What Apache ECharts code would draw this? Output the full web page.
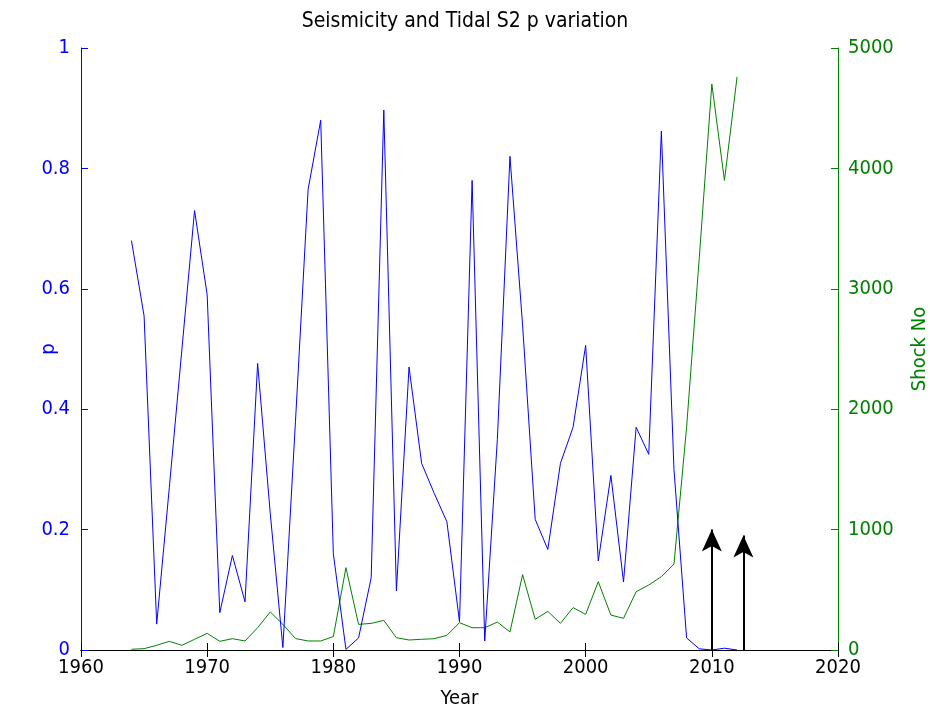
<!DOCTYPE html>
<html>
<head>
<meta charset="utf-8">
<script src="https://cdn.jsdelivr.net/npm/echarts@6/dist/echarts.min.js"></script>
<style>
html,body{margin:0;padding:0;background:#ffffff;}
#chart{width:930px;height:713px;}
</style>
</head>
<body>
<div id="chart"></div>
<script>
// ---- data ----
const years = [1964,1965,1966,1967,1968,1969,1970,1971,1972,1973,1974,1975,1976,1977,1978,1979,
  1980,1981,1982,1983,1984,1985,1986,1987,1988,1989,1990,1991,1992,1993,1994,1995,1996,1997,1998,1999,
  2000,2001,2002,2003,2004,2005,2006,2007,2008,2009,2010,2011,2012];
const pValues = [0.68,0.555,0.043,0.27,0.5,0.73,0.59,0.062,0.157,0.08,0.476,0.227,0.004,0.38,0.765,0.88,
  0.16,0.001,0.02,0.12,0.897,0.098,0.47,0.31,0.26,0.213,0.047,0.78,0.015,0.35,0.82,0.54,0.217,0.167,0.31,0.37,
  0.506,0.148,0.29,0.113,0.37,0.325,0.862,0.3,0.02,0.002,0,0.003,0];
const shockCounts = [6,11,39,72,39,89,138,72,94,75,185,316,213,95,75,75,
  111,684,213,221,246,102,83,89,94,122,227,185,185,232,150,626,255,321,221,352,
  296,567,290,263,484,540,609,713,1850,3250,4700,3900,4760];
const arrowYears = [2010, 2012.5];
const arrowTops = [0.2, 0.19];
const titleText = 'Seismicity and Tidal S2 p variation';
const xName = 'Year';
const leftName = 'p';
const rightName = 'Shock No';

const FONT = '"Liberation Sans Narrow","Arial Narrow","DejaVu Sans Condensed","Liberation Sans",sans-serif';
const BLUE = '#0000ff';
const GREEN = '#008000';

const pData = years.map((y, i) => [y, pValues[i]]);
const shockData = years.map((y, i) => [y, shockCounts[i]]);
const arrowLines = arrowYears.map((y, i) => [{coord: [y, 0]}, {coord: [y, arrowTops[i]]}]);

const chart = echarts.init(document.getElementById('chart'), null, {renderer: 'canvas'});
chart.setOption({
  backgroundColor: '#ffffff',
  animation: false,
  title: {
    text: titleText, left: 'center', top: 6,
    textStyle: {fontFamily: FONT, fontSize: 21, fontWeight: 'normal', color: '#000'}
  },
  grid: {left: 81, right: 92, top: 48, bottom: 63, containLabel: false, outerBoundsMode: 'none'},
  xAxis: [
    {
      type: 'value', min: 1960, max: 2020, interval: 10, position: 'bottom',
      name: xName, nameLocation: 'middle', nameGap: 39, nameMoveOverlap: false,
      nameTextStyle: {fontFamily: FONT, fontSize: 20, color: '#000'},
      axisLine: {show: true, lineStyle: {color: '#000', width: 1}},
      axisTick: {show: true, inside: true, length: 7, lineStyle: {color: '#000'}},
      axisLabel: {fontFamily: FONT, fontSize: 20, color: '#000', margin: 8, formatter: v => String(v)},
      splitLine: {show: false}
    },
    {
      type: 'value', min: 1960, max: 2020, interval: 10, position: 'top',
      axisLine: {show: true, lineStyle: {color: '#000', width: 1}},
      axisTick: {show: true, inside: true, length: 7, lineStyle: {color: '#000'}},
      axisLabel: {show: false},
      splitLine: {show: false}
    }
  ],
  yAxis: [
    {
      type: 'value', min: 0, max: 1, interval: 0.2, position: 'left',
      name: leftName, nameLocation: 'middle', nameGap: 22, nameRotate: 90, nameMoveOverlap: false,
      nameTextStyle: {fontFamily: FONT, fontSize: 20, color: BLUE},
      axisLine: {show: true, lineStyle: {color: BLUE, width: 1}},
      axisTick: {show: true, inside: true, length: 7, lineStyle: {color: BLUE}},
      axisLabel: {fontFamily: FONT, fontSize: 20, color: BLUE, margin: 11,
        formatter: v => String(Math.round(v * 10) / 10)},
      splitLine: {show: false}
    },
    {
      type: 'value', min: 0, max: 5000, interval: 1000, position: 'right',
      name: rightName, nameLocation: 'middle', nameGap: 72, nameRotate: 90, nameMoveOverlap: false,
      nameTextStyle: {fontFamily: FONT, fontSize: 20, color: GREEN},
      axisLine: {show: true, lineStyle: {color: GREEN, width: 1}},
      axisTick: {show: true, inside: true, length: 7, lineStyle: {color: GREEN}},
      axisLabel: {fontFamily: FONT, fontSize: 20, color: GREEN, margin: 10, formatter: v => String(v)},
      splitLine: {show: false}
    }
  ],
  series: [
    {
      name: 'Shock No', type: 'line', xAxisIndex: 0, yAxisIndex: 1,
      data: shockData, showSymbol: false, symbol: 'none',
      lineStyle: {color: GREEN, width: 1}, z: 2
    },
    {
      name: 'p', type: 'line', xAxisIndex: 0, yAxisIndex: 0,
      data: pData, showSymbol: false, symbol: 'none',
      lineStyle: {color: BLUE, width: 1}, z: 3,
      markLine: {
        silent: true, animation: false,
        symbol: ['none', 'arrow'], symbolSize: [15, 22],
        label: {show: false},
        lineStyle: {color: '#000', width: 2, type: 'solid'},
        emphasis: {disabled: true},
        data: arrowLines
      }
    }
  ]
});
</script>
</body>
</html>
